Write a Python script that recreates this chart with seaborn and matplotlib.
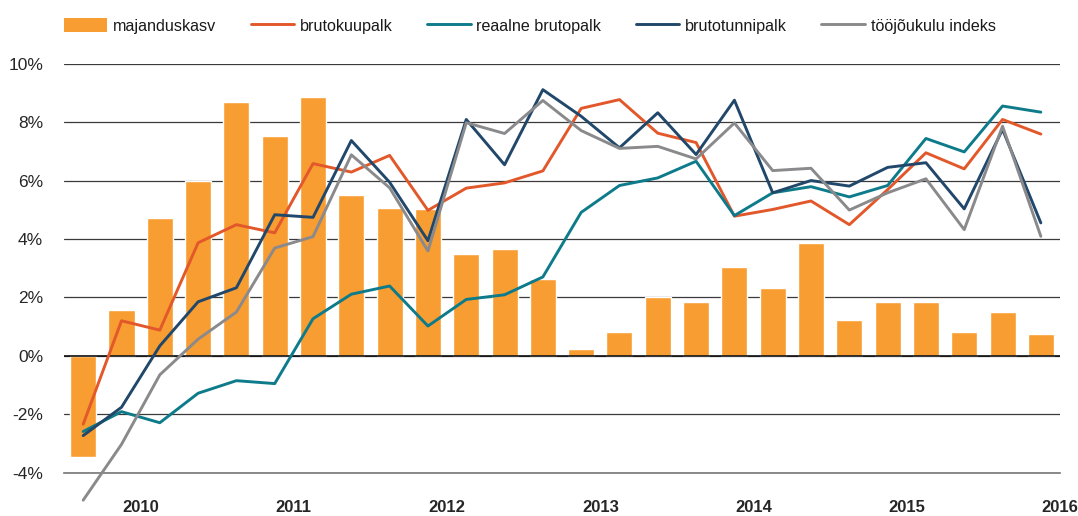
import numpy as np
import pandas as pd
import matplotlib
matplotlib.use("Agg")
import matplotlib.pyplot as plt
import seaborn as sns
from matplotlib.patches import Patch
from matplotlib.lines import Line2D

# kvartalid 2010 I - 2016 II
quarters = list(range(26))
years = ["2010", "2011", "2012", "2013", "2014", "2015", "2016"]

majanduskasv = [-3.45, 1.58, 4.73, 5.99, 8.69, 7.54, 8.85, 5.49, 5.07, 5.04, 3.50, 3.67, 2.64,
                0.24, 0.80, 2.02, 1.85, 3.05, 2.33, 3.87, 1.23, 1.85, 1.85, 0.82, 1.51, 0.75]
brutokuupalk = [-2.34, 1.20, 0.88, 3.87, 4.49, 4.21, 6.58, 6.29, 6.86, 4.98, 5.74, 5.92, 6.33,
                8.47, 8.77, 7.62, 7.30, 4.78, 5.01, 5.30, 4.49, 5.69, 6.95, 6.40, 8.09, 7.59]
reaalne_brutopalk = [-2.59, -1.91, -2.29, -1.28, -0.85, -0.95, 1.27, 2.11, 2.39, 1.02, 1.93, 2.09, 2.70,
                     4.91, 5.83, 6.09, 6.66, 4.80, 5.58, 5.79, 5.44, 5.83, 7.44, 6.98, 8.55, 8.34]
brutotunnipalk = [-2.73, -1.76, 0.34, 1.85, 2.33, 4.83, 4.74, 7.37, 5.94, 3.94, 8.09, 6.54, 9.11,
                  8.20, 7.12, 8.32, 6.89, 8.75, 5.58, 6.00, 5.81, 6.45, 6.61, 5.03, 7.75, 4.55]
toojoukulu = [-4.94, -3.03, -0.65, 0.57, 1.50, 3.69, 4.08, 6.88, 5.75, 3.59, 7.98, 7.61, 8.74,
              7.71, 7.10, 7.17, 6.74, 7.97, 6.34, 6.42, 4.99, 5.58, 6.06, 4.32, 7.86, 4.09]

bar_color = "#F89D31"
line_series = [
    ("brutokuupalk", brutokuupalk, "#E2582A"),
    ("reaalne brutopalk", reaalne_brutopalk, "#0E7B8B"),
    ("brutotunnipalk", brutotunnipalk, "#21486A"),
    ("tööjõukulu indeks", toojoukulu, "#8A8A8C"),
]

sns.set_style("white")
plt.rcParams["font.family"] = ["Liberation Sans", "DejaVu Sans"]
plt.rcParams["text.color"] = "#1a1a1a"

fig = plt.figure(figsize=(10.78, 5.16), dpi=100)
ax = fig.add_axes([0.0594, 0.0839, 0.9239, 0.7927])

df_bar = pd.DataFrame({"q": quarters, "v": majanduskasv})
sns.barplot(data=df_bar, x="q", y="v", native_scale=True, color=bar_color,
            saturation=1, width=0.68, ax=ax, zorder=2)

for name, vals, col in line_series:
    d = pd.DataFrame({"q": quarters, "v": vals})
    sns.lineplot(data=d, x="q", y="v", color=col, lw=2.1, ax=ax, legend=False, zorder=3)
for ln in ax.lines:
    ln.set_clip_on(False)

ax.set_xlim(-0.5, 25.5)
ax.set_ylim(-4, 10)
ax.set_yticks(np.arange(-4, 11, 2))
ax.set_yticklabels([f"{v}%" for v in range(-4, 11, 2)], fontsize=12.5)
ax.yaxis.grid(True, color="#3a3a3a", lw=0.9, zorder=0)
ax.set_axisbelow(True)
ax.tick_params(axis="y", length=0, pad=15)
ax.axhline(0, color="#111111", lw=1.2, zorder=2.5)

# aasta piirid + aastate sildid
ax.set_xticks([3.5, 7.5, 11.5, 15.5, 19.5, 23.5])
ax.set_xticklabels([])
ax.set_xticks([1.5 + 4 * i for i in range(len(years))], minor=True)
ax.set_xticklabels(years, minor=True, fontsize=12, fontweight="bold")
ax.tick_params(axis="x", which="major", direction="in", length=5, width=1, color="#333333")
ax.tick_params(axis="x", which="minor", length=0, pad=20)
ax.set_xlabel("")
ax.set_ylabel("")

for s in ["top", "left", "right"]:
    ax.spines[s].set_visible(False)
ax.spines["bottom"].set_color("#777777")
ax.spines["bottom"].set_linewidth(1.2)

handles = [Patch(facecolor=bar_color, edgecolor="none", label="majanduskasv")]
for name, vals, col in line_series:
    handles.append(Line2D([0], [0], color=col, lw=2.1, label=name))
fig.legend(handles=handles, loc="center left", bbox_to_anchor=(0.0455, 0.95), ncol=5,
           frameon=False, fontsize=11.6, handlelength=2.7, handleheight=1.0,
           handletextpad=0.35, columnspacing=2.15)

fig.savefig("out.png", dpi=100)
